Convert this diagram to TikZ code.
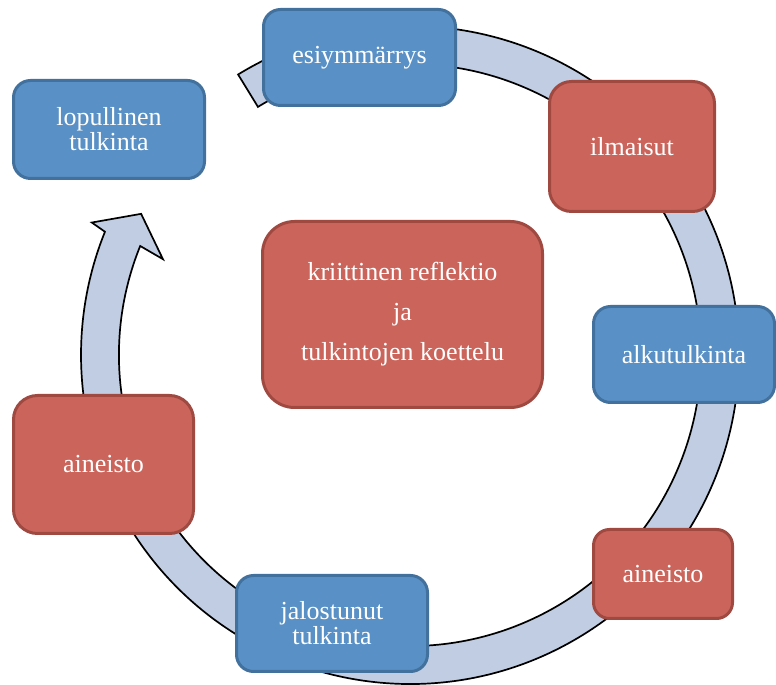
\documentclass[tikz,border=0pt]{standalone}
\usepackage{fontspec}
\setmainfont{Liberation Serif}
\definecolor{blueF}{RGB}{89,144,197}
\definecolor{blueD}{RGB}{66,113,158}
\definecolor{redF}{RGB}{203,101,91}
\definecolor{redD}{RGB}{160,73,65}
\definecolor{ringF}{RGB}{193,205,226}
\begin{document}
\begin{tikzpicture}[x=1pt,y=1pt,
  basebox/.style={rectangle, line width=3pt, text=white, align=center,
    font=\fontsize{26}{25}\selectfont, inner sep=0pt},
  bbox/.style={basebox, fill=blueF, draw=blueD},
  rbox/.style={basebox, fill=redF, draw=redD},
  ringstyle/.style={fill=ringF, draw=black, line width=1.7pt, line join=miter}
]
\useasboundingbox (0,0) rectangle (776,685);
% circular arrow band
\begin{scope}[shift={(410,330)}]
\filldraw[ringstyle] (121.5:329) arc[start angle=121.5, end angle=-202, radius=329]
  -- (157.4:344.7) -- (152.3:303.7) -- (158.8:265) -- (158:291)
  arc[start angle=-202, end angle=121.5, radius=291] -- cycle;
\end{scope}
% boxes
\node[bbox, minimum width=192pt, minimum height=96pt, rounded corners=17pt] (esi) at (359.5,627.5) {esiymmärrys};
\node[bbox, minimum width=191pt, minimum height=98pt, rounded corners=17pt] (lop) at (109,555.5) {lopullinen\\tulkinta};
\node[rbox, minimum width=165pt, minimum height=130pt, rounded corners=22pt] (ilm) at (632,538.5) {ilmaisut};
\node[rbox, minimum width=280pt, minimum height=186pt, rounded corners=32pt,
  font=\fontsize{26}{40}\selectfont] (kri) at (402.5,370.5) {kriittinen reflektio\\ja\\tulkintojen koettelu};
\node[bbox, minimum width=181pt, minimum height=96pt, rounded corners=17pt] (alk) at (684,330.5) {alkutulkinta};
\node[rbox, minimum width=180pt, minimum height=138pt, rounded corners=24pt] (ain1) at (103.5,220.5) {aineisto};
\node[bbox, minimum width=191pt, minimum height=96pt, rounded corners=17pt] (jal) at (332,61.5) {jalostunut\\tulkinta};
\node[rbox, minimum width=139pt, minimum height=89pt, rounded corners=16pt] (ain2) at (663,111) {aineisto};
\end{tikzpicture}
\end{document}
